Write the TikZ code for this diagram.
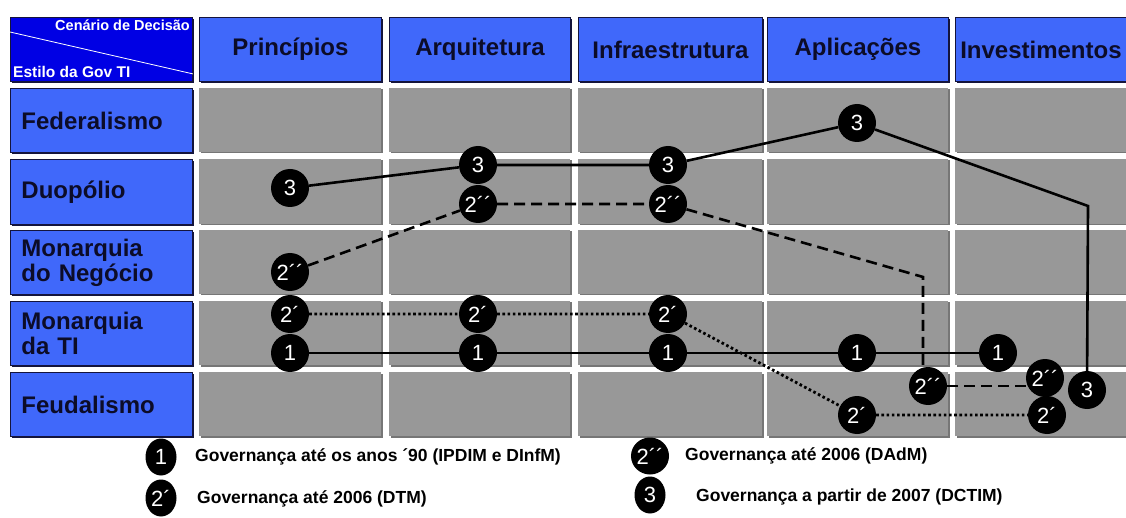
\documentclass[tikz,border=0pt]{standalone}
\usepackage{fontspec}
\setmainfont{Liberation Sans}
\usetikzlibrary{shapes.geometric}
\definecolor{hblue}{RGB}{64,104,250}
\definecolor{cblue}{RGB}{0,0,228}
\definecolor{cellgrey}{RGB}{152,152,152}
\definecolor{cellshadow}{RGB}{118,118,118}
\definecolor{hborder}{RGB}{20,20,60}
\definecolor{htext}{RGB}{12,12,40}
\pgfdeclarelayer{bg}
\pgfdeclarelayer{lines}
\pgfsetlayers{bg,lines,main}
\begin{document}
\begin{tikzpicture}[x=1pt,y=-1pt,
 hdr/.style={rectangle, anchor=north west, fill=hblue, draw=hborder, line width=0.9pt, inner sep=0pt, font=\fontsize{24}{25}\selectfont\bfseries, text=htext},
 cell/.style={rectangle, anchor=north west, fill=cellgrey, inner sep=0pt},
 circ/.style={circle, fill=black, text=white, minimum size=38pt, inner sep=0pt, font=\fontsize{22}{22}\selectfont},
 lcirc/.style={ellipse, fill=black, text=white, minimum width=31pt, minimum height=37pt, inner sep=0pt, font=\fontsize{22}{22}\selectfont},
 ltext/.style={anchor=west, inner sep=0pt, font=\fontsize{17.5}{17.5}\selectfont\bfseries, text=black},
 solidl/.style={line width=2.6pt},
 dashl/.style={line width=2.6pt, dash pattern=on 11pt off 6pt},
 dotl/.style={line width=2.8pt, dash pattern=on 2.6pt off 2.6pt}
]
\useasboundingbox (0,0) rectangle (1126,518);

% grid
\begin{pgfonlayer}{bg}
\fill[white] (0,0) rectangle (1126,518);
\foreach \cx/\cw [count=\i] in {199/182, 389/181, 578/184, 767/181, 955/171}{
  \foreach \ry/\rh [count=\j] in {88/64, 159/65, 230/64, 301/64, 372/64}{
    \fill[cellshadow] (\cx+1.5,\ry+1.5) rectangle ++(\cw,\rh);
    \node[cell, minimum width=\cw pt, minimum height=\rh pt] (cell-\i-\j) at (\cx,\ry) {};
  }
}
% shadows of blue boxes
\foreach \cx/\cw in {10/182, 199/182, 389/181, 578/184, 767/181, 955/171}{
  \fill[hborder] (\cx+2,19) rectangle ++(\cw,64);
}
\foreach \ry/\rh in {88/64, 159/65, 230/64, 301/64, 372/64}{
  \fill[hborder] (12,\ry+2) rectangle ++(182,\rh);
}
\end{pgfonlayer}

% corner box
\node[rectangle, anchor=north west, fill=cblue, draw=hborder, line width=0.9pt, inner sep=0pt, minimum width=182pt, minimum height=64pt] (corner) at (10,17) {};
\draw[white, line width=0.8pt] ([yshift=-15pt]corner.north west) -- ([yshift=8pt]corner.south east);
\node[anchor=east, inner sep=0pt, text=white, font=\fontsize{14.5}{14.5}\selectfont\bfseries] (cdec) at (190,25) {Cenário de Decisão};
\node[anchor=west, inner sep=0pt, text=white, font=\fontsize{15.5}{15.5}\selectfont\bfseries] (egov) at (13,72) {Estilo da Gov TI};

% column headers
\node[hdr, minimum width=182pt, minimum height=64pt] (h1) at (199,17) {Princípios};
\node[hdr, minimum width=181pt, minimum height=64pt] (h2) at (389,17) {Arquitetura};
\node[hdr, minimum width=184pt, minimum height=64pt] (h3) at (578,17) {Infraestrutura};
\node[hdr, minimum width=181pt, minimum height=64pt] (h4) at (767,17) {Aplicações};
\node[hdr, minimum width=171pt, minimum height=64pt] (h5) at (955,17) {Investimentos};

% row headers
\node[hdr, minimum width=182pt, minimum height=64pt, text width=160pt, align=left] (r1) at (10,88) {Federalismo};
\node[hdr, minimum width=182pt, minimum height=65pt, text width=160pt, align=left] (r2) at (10,159) {Duopólio};
\node[hdr, minimum width=182pt, minimum height=64pt, text width=160pt, align=left] (r3) at (10,230) {Monarquia\\do Negócio};
\node[hdr, minimum width=182pt, minimum height=64pt, text width=160pt, align=left] (r4) at (10,301) {Monarquia\\da TI};
\node[hdr, minimum width=182pt, minimum height=64pt, text width=160pt, align=left] (r5) at (10,372) {Feudalismo};

% series 3
\node[circ] (t1) at (290,188) {3};
\node[circ] (t2) at (478,165) {3};
\node[circ] (t3) at (668,165) {3};
\node[circ] (t4) at (857,123) {3};
\node[circ] (t5) at (1087,390) {3};
\coordinate (tc) at (1088,206);
% series 2''
\node[circ] (d1) at (290,272) {2´´};
\node[circ] (d2) at (478,204) {2´´};
\node[circ] (d3) at (668,204) {2´´};
\node[circ] (d4) at (928,386) {2´´};
\node[circ] (d5) at (1045,378) {2´´};
\coordinate (dc) at (923,277);
% series 2'
\node[circ] (s1) at (290,314) {2´};
\node[circ] (s2) at (478,314) {2´};
\node[circ] (s3) at (668,314) {2´};
\node[circ] (s4) at (857,415) {2´};
\node[circ] (s5) at (1047,415) {2´};
% series 1
\node[circ] (o1) at (290,353) {1};
\node[circ] (o2) at (478,353) {1};
\node[circ] (o3) at (668,353) {1};
\node[circ] (o4) at (857,353) {1};
\node[circ] (o5) at (998,353) {1};

\begin{pgfonlayer}{lines}
\draw[solidl] (t1) -- (t2) -- (t3) -- (t4) -- (tc) -- (t5);
\draw[dashl] (d1) -- (d2) -- (d3) -- (dc) -- (dc |- d4);
\draw[dashl] (d4) -- (d4 -| d5);
\draw[dotl] (s1) -- (s2) -- (s3) -- (s4) -- (s5);
\draw[solidl] (o1) -- (o5);
\end{pgfonlayer}

% legend
\node[lcirc] (l1) at (161,457) {1};
\node[ltext] (lt1) at (195,457) {Governança até os anos ´90 (IPDIM e DInfM)};
\node[lcirc] (l2) at (161,498) {2´};
\node[ltext] (lt2) at (197,499) {Governança até 2006 (DTM)};
\node[lcirc] (l3) at (650,456) {2´´};
\node[ltext] (lt3) at (685,456) {Governança até 2006 (DAdM)};
\node[lcirc] (l4) at (650,495) {3};
\node[ltext] (lt4) at (696,497) {Governança a partir de 2007 (DCTIM)};
\end{tikzpicture}
\end{document}
